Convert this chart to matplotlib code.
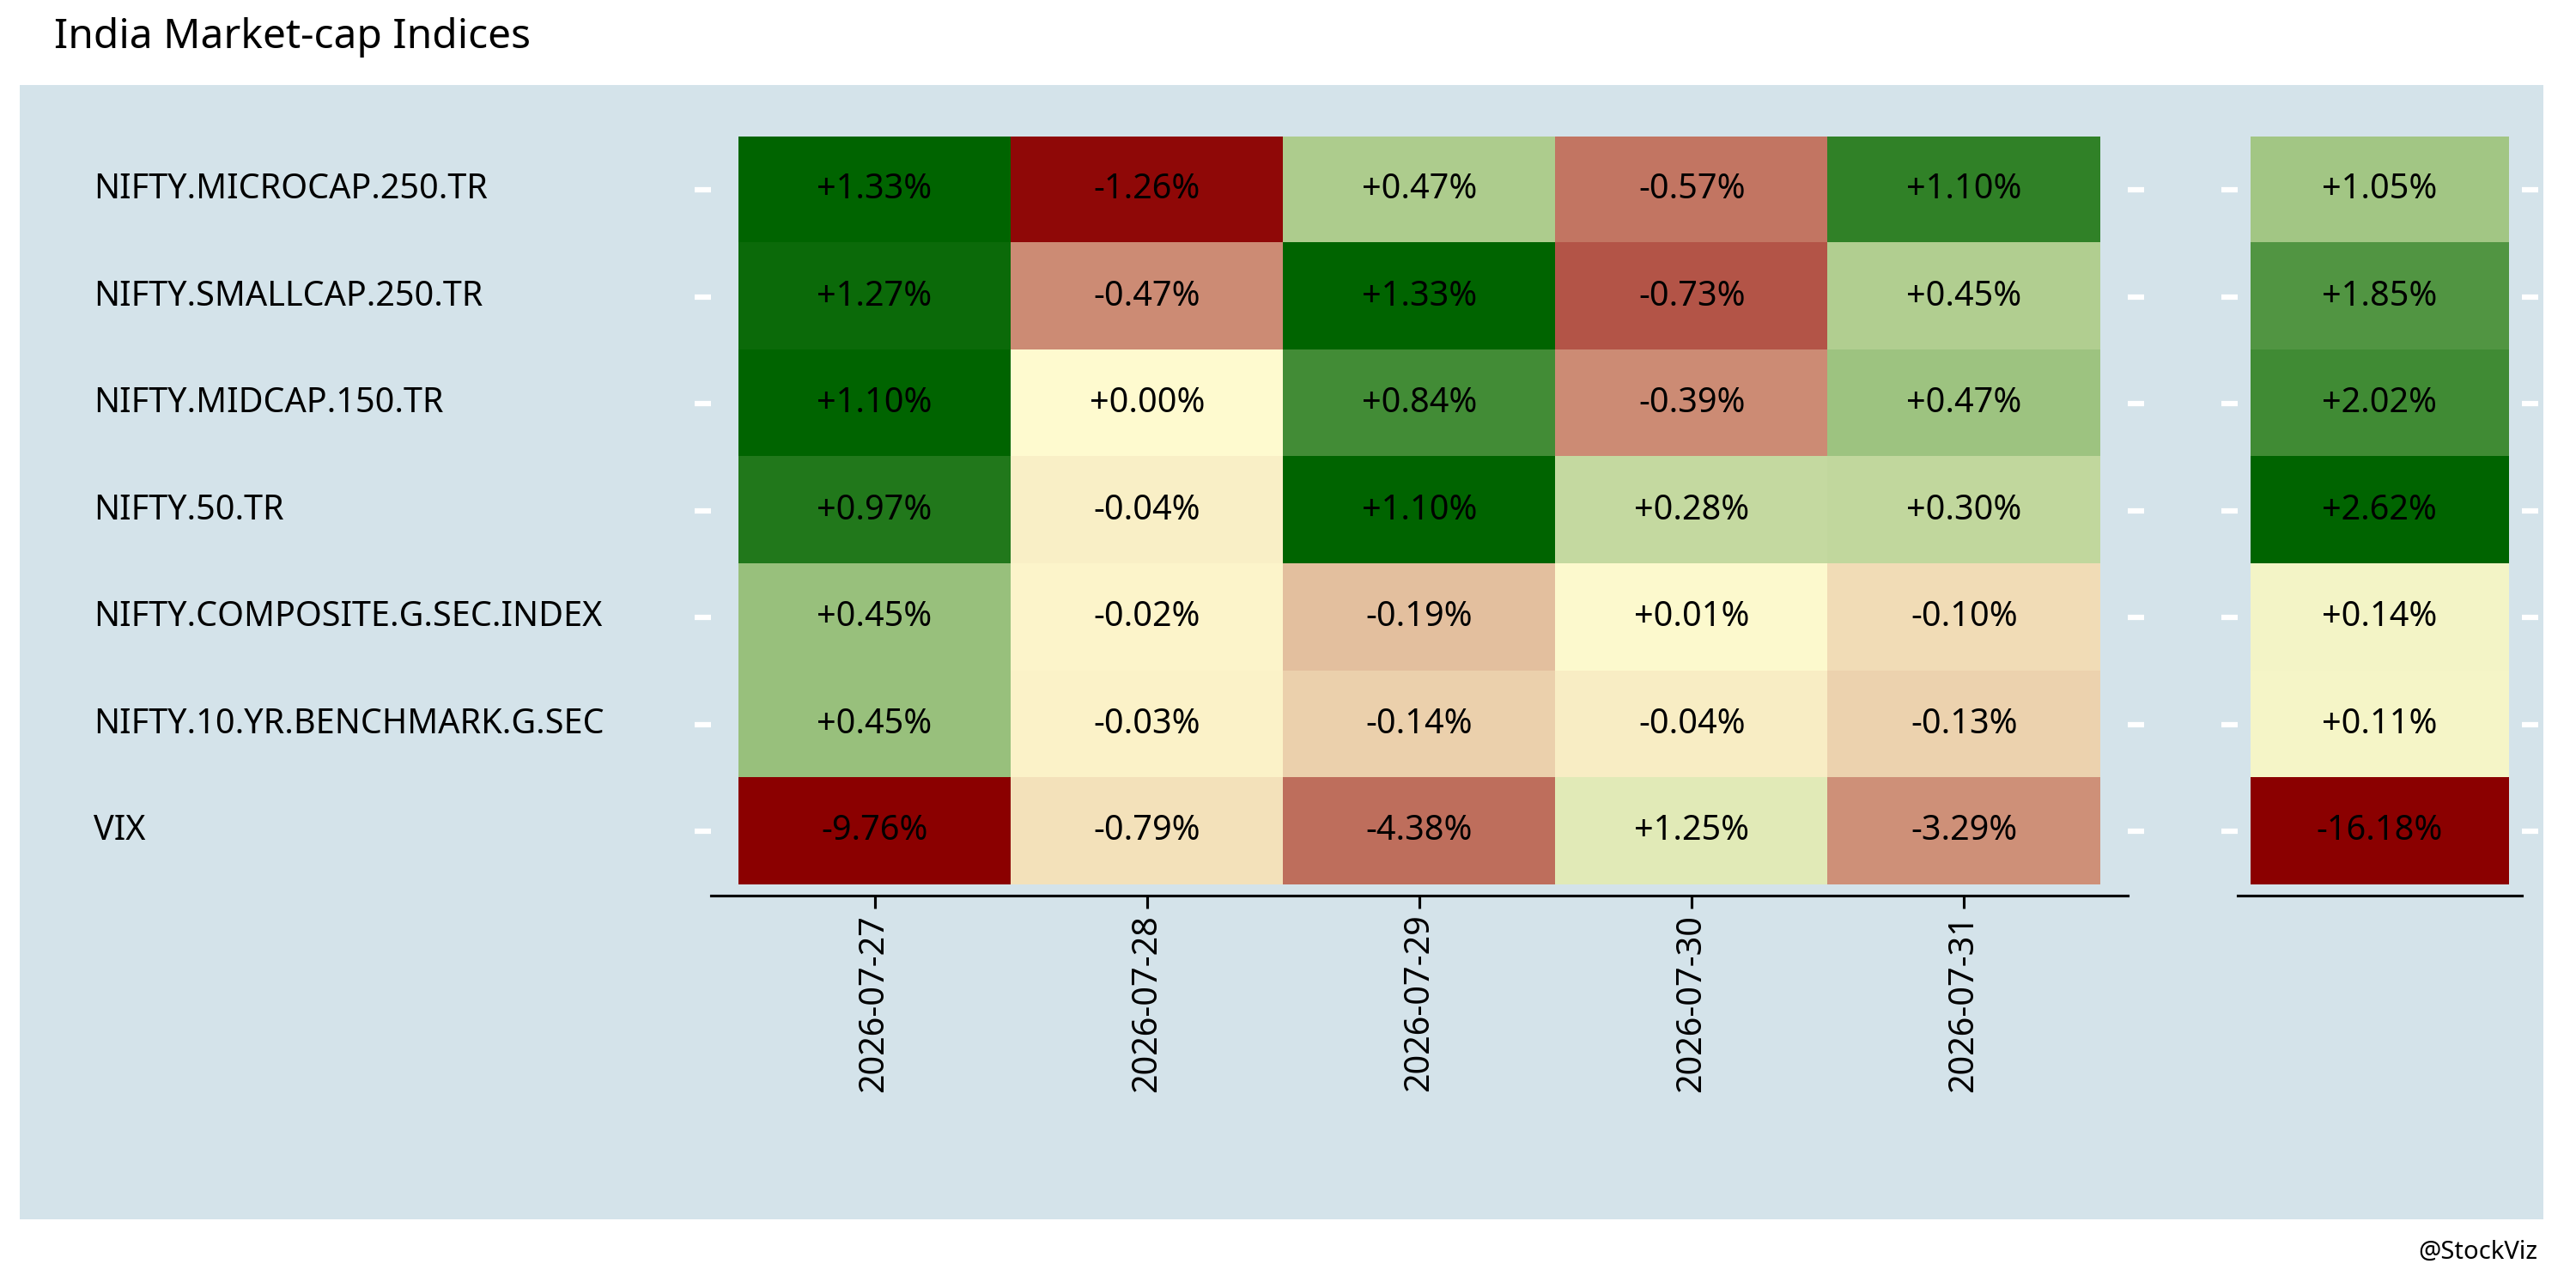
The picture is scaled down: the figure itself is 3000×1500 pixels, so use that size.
import numpy as np
import matplotlib
matplotlib.use('Agg')
import matplotlib.pyplot as plt
from matplotlib.colors import LinearSegmentedColormap
from matplotlib.transforms import blended_transform_factory

plt.rcParams['font.family'] = ['Noto Sans', 'DejaVu Sans']

# data
indices = ["NIFTY.MICROCAP.250.TR", "NIFTY.SMALLCAP.250.TR", "NIFTY.MIDCAP.150.TR",
           "NIFTY.50.TR", "NIFTY.COMPOSITE.G.SEC.INDEX", "NIFTY.10.YR.BENCHMARK.G.SEC", "VIX"]
dates = ["2026-07-27", "2026-07-28", "2026-07-29", "2026-07-30", "2026-07-31"]
daily = np.array([
    [1.33, -1.26, 0.47, -0.57, 1.10],
    [1.27, -0.47, 1.33, -0.73, 0.45],
    [1.10, -0.00, 0.84, -0.39, 0.47],
    [0.97, -0.04, 1.10, 0.28, 0.30],
    [0.45, -0.02, -0.19, 0.01, -0.10],
    [0.45, -0.03, -0.14, -0.04, -0.13],
    [-9.76, -0.79, -4.38, 1.25, -3.29],
])
total = np.array([1.05, 1.85, 2.02, 2.62, 0.14, 0.11, -16.18])

cmap = LinearSegmentedColormap.from_list("rg", [
    (0.0, "#8B0000"), (0.25, "#B85F50"), (0.5, "#FFFBD0"), (0.75, "#8DBA73"), (1.0, "#006400")])

def fmt(v):
    return ("+" if v >= 0 else "-") + f"{abs(v):.2f}%"

# per-row scaling for the daily block
scale = np.maximum(np.abs(daily).max(axis=1, keepdims=True), 1.0)
daily_t = daily / scale / 2 + 0.5
# summary: negatives and positives scaled separately
total_t = np.where(total >= 0, total / total.max(), -total / total.min()) / 2 + 0.5

fig = plt.figure(figsize=(20, 10), dpi=150)
fig.patch.set_facecolor("white")
bg = fig.add_axes([0.00765, 0.0536, 0.9796, 0.8801], zorder=-1)
bg.set_facecolor("#D4E3EA")
bg.axis("off")
bg.add_patch(plt.Rectangle((0, 0), 1, 1, transform=bg.transAxes, facecolor="#D4E3EA", edgecolor="none"))

fig.text(0.021, 0.971, "India Market-cap Indices", fontsize=23, va="center", ha="left")
fig.text(0.985, 0.028, "@StockViz", fontsize=14, va="center", ha="right")

ax = fig.add_axes([0.2761, 0.3048, 0.5498, 0.5893])
ax2 = fig.add_axes([0.8686, 0.3048, 0.1103, 0.5893])

ax.imshow(daily_t, cmap=cmap, vmin=0, vmax=1, aspect="auto")
for i in range(daily.shape[0]):
    for j in range(daily.shape[1]):
        ax.text(j, i, fmt(daily[i, j]), ha="center", va="center", fontsize=19)
ax.set_xlim(-0.6, 4.6)
ax.set_ylim(6.6, -0.5)

ax2.imshow(total_t.reshape(-1, 1), cmap=cmap, vmin=0, vmax=1, aspect="auto")
for i, v in enumerate(total):
    ax2.text(0, i, fmt(v), ha="center", va="center", fontsize=19)
ax2.set_xlim(-0.55, 0.55)
ax2.set_ylim(6.6, -0.5)

for a in (ax, ax2):
    a.patch.set_visible(False)
    for s in ("top", "left", "right"):
        a.spines[s].set_visible(False)
    a.spines["bottom"].set_color("black")
    a.spines["bottom"].set_linewidth(1.5)
    a.set_yticks(range(len(indices)))
    a.set_yticklabels([])
    a.tick_params(axis="y", left=True, right=True, color="white", length=9, width=3)
    a.tick_params(axis="x", color="black", length=7, width=1.5)

ax.set_xticks(range(len(dates)))
ax.set_xticklabels(dates, rotation=90, fontsize=19)
ax2.set_xticks([])

tr = blended_transform_factory(fig.transFigure, ax.transData)
for i, name in enumerate(indices):
    fig.text(0.0364, i, name, transform=tr, ha="left", va="center", fontsize=19)

fig.savefig("out.png", dpi=150)
